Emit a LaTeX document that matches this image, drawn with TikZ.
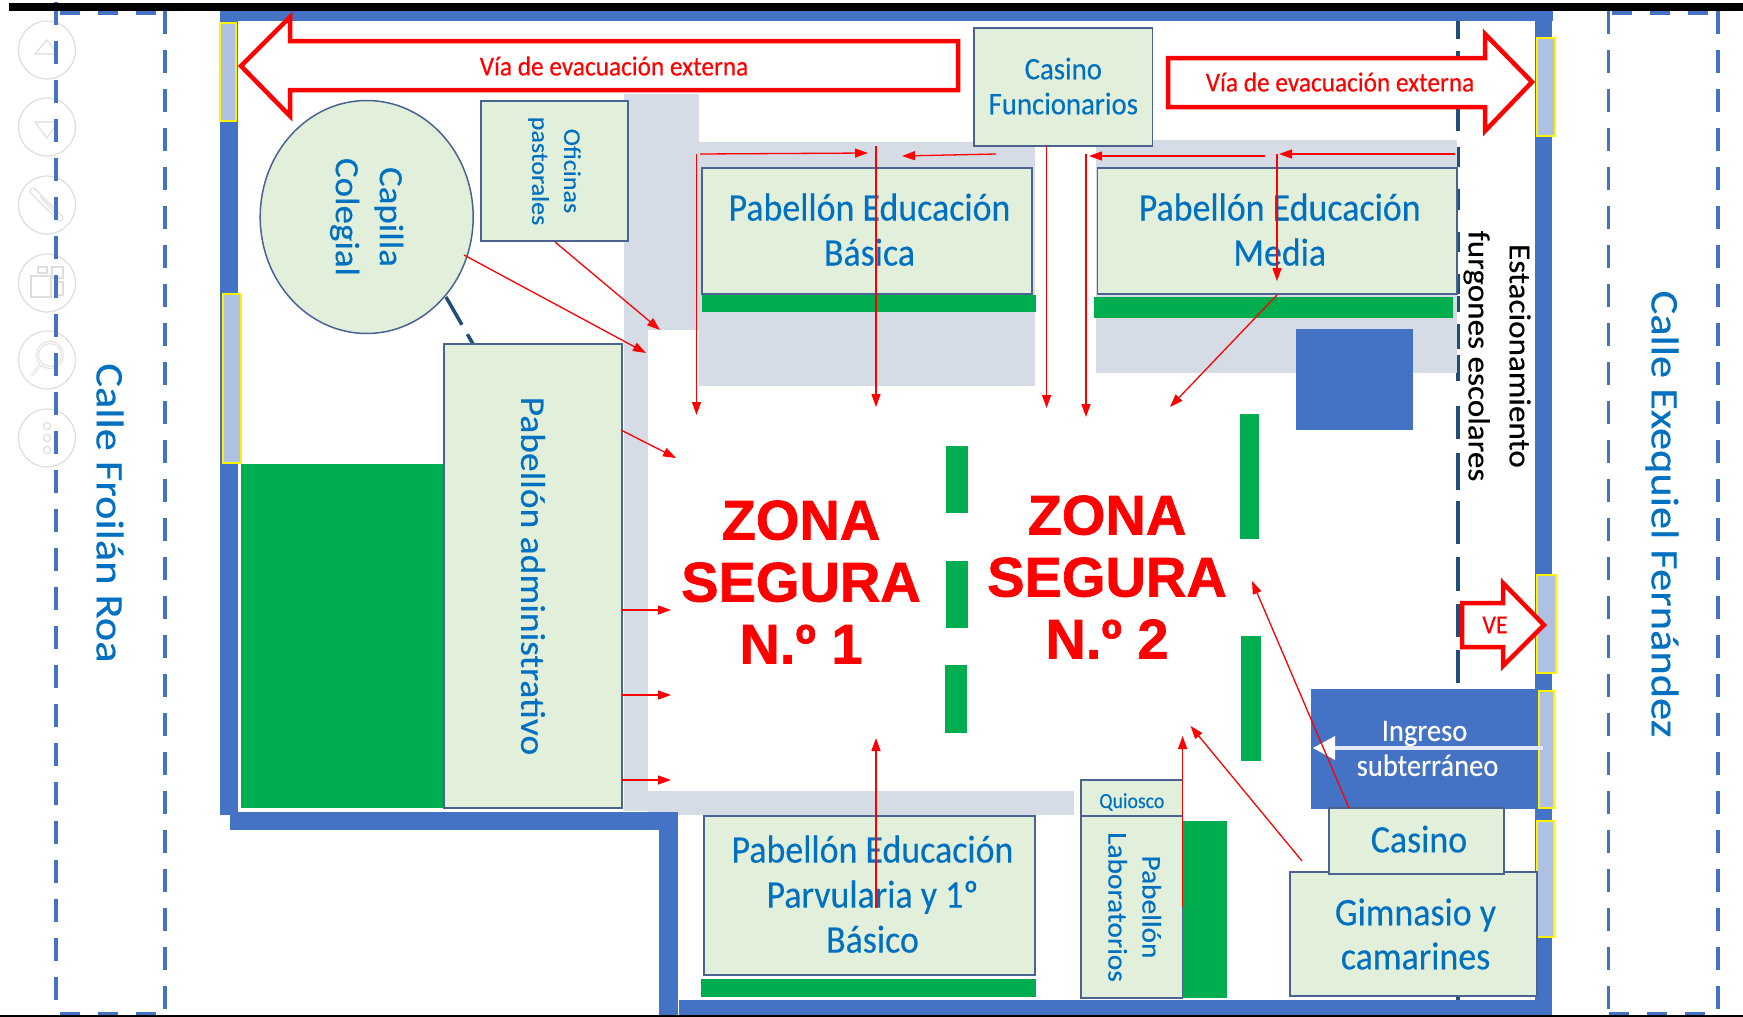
\documentclass[tikz,border=0pt]{standalone}
\usepackage{fontspec}
\usetikzlibrary{arrows.meta,shapes.geometric}
\setmainfont{Carlito}
\newfontfamily\hf[FakeStretch=0.92,FakeBold=0.25]{Carlito}
\newfontfamily\rf[FakeStretch=1.087,FakeBold=0.25]{Carlito}
\newfontfamily\cf[FakeStretch=1.14,FakeBold=0.25]{Carlito}
\newfontfamily\zf[UprightFont={* Bold},FakeBold=1.2]{Liberation Sans}
\definecolor{wallblue}{HTML}{4472C4}
\definecolor{winfill}{HTML}{AEC1E3}
\definecolor{boxfill}{HTML}{E2EFDA}
\definecolor{boxline}{HTML}{4A6391}
\definecolor{pathgray}{HTML}{D6DCE5}
\definecolor{grass}{HTML}{00AE4F}
\definecolor{txtblue}{HTML}{0070C0}
\definecolor{darkdash}{HTML}{1F4E79}
\definecolor{ghost}{HTML}{DEDEDE}
\tikzset{
  x=1pt,y=-1pt,
  roomnode/.style={draw=boxline,line width=1.5pt,fill=boxfill,inner sep=0pt,align=center,text=txtblue},
  hlab/.style 2 args={roomnode,font=\hf\fontsize{#1}{#2}\selectfont},
  wall/.style={fill=wallblue,draw=none},
  walk/.style={fill=pathgray,draw=none},
  lawn/.style={fill=grass,draw=none},
  window/.style={fill=winfill,draw=yellow,line width=1.2pt},
  road/.style={draw=wallblue,line width=3.5pt,dash pattern=on 23pt off 16pt},
  roadh/.style={draw=wallblue,line width=3.5pt,dash pattern=on 20pt off 18pt},
  evac/.style={draw=red,line width=4.5pt,fill=white,miter limit=6},
  exitarrow/.style={draw=red,line width=1.3pt,-{Triangle[length=13pt,width=9pt]}},
  ghosticon/.style={draw=ghost,line width=1.2pt},
  zone/.style={text=red,align=center,inner sep=0pt,font=\zf\fontsize{56}{62}\selectfont},
  evlabel/.style={text=red,inner sep=0pt,font=\hf\fontsize{27.5}{32}\selectfont},
  callelabel/.style={text=txtblue,inner sep=0pt,rotate=-90,font=\cf\fontsize{39}{44}\selectfont},
}
\begin{document}
\begin{tikzpicture}
\useasboundingbox (0,0) rectangle (1743,1017);
\fill[white] (0,0) rectangle (1743,1017);
% ghost toolbar
\foreach \cy in {50,127,205,283,360,438}{\draw[ghosticon,fill=white] (47,\cy) ellipse [x radius=28.5,y radius=29];}
\draw[ghosticon] (35,54)--(47,40)--(58,54)--cycle;
\draw[ghosticon] (35,122)--(58,122)--(47,138)--cycle;
\draw[ghosticon,line width=7pt,line cap=round] (33,191)--(60,218);
\draw[white,line width=4.4pt,line cap=round] (33,191)--(60,218);
\draw[ghosticon] (40,196)--(56,214);
\draw[ghosticon,line width=2.4pt] (31,276) rectangle (51,297);
\draw[ghosticon] (38,267) rectangle (47,273) (52,267) rectangle (63,278) (55,282) rectangle (63,295);
\draw[ghosticon,line width=3pt] (50,355) circle [radius=12.5] (41,364)--(32,375);
\draw[white,line width=1pt] (50,355) circle [radius=12.5] (41,364)--(32,375);
\foreach \dy in {426,438,450}{\draw[ghosticon] (47,\dy) circle [radius=3.6];}
% roads
\draw[road] (56,2)--(56,1012);
\draw[road] (165,11)--(165,1012);
\draw[road] (1608.5,11)--(1608.5,1012);
\draw[road] (1718,11)--(1718,1012);
\draw[roadh] (60,13)--(165,13);
\draw[roadh] (1612,13)--(1718,13);
\draw[roadh] (60,1014)--(165,1014);
\draw[roadh] (1609,1014)--(1718,1014);
% parking dashed line
\foreach \ya/\yb in {21/39,51/70,108/131,147/167,189/210,232/252,274/294,296/312,324/349,355/381,406/439,453/490,501/544,557/591,604/637,650/683,996/1000}{
  \draw[darkdash,line width=3.5pt] (1458,\ya)--(1458,\yb);}
% walkways
\fill[walk] (624,94) rectangle (699,330);
\fill[walk] (624,330) rectangle (648,811);
\fill[walk] (648,791) rectangle (1074,815);
\fill[walk] (699,142) rectangle (1035,386);
\fill[walk] (1096,140) rectangle (1457,373);
% walls
\fill[wall] (220,11) rectangle (1553,21);
\fill[wall] (220,11) rectangle (238,815);
\fill[wall] (230,812) rectangle (678,830);
\fill[wall] (659,812) rectangle (678,1015);
\fill[wall] (679,1000) rectangle (1552,1015);
\fill[wall] (1535,11) rectangle (1552,1015);
% windows
\draw[window] (220,23) rectangle (236,121);
\draw[window] (223,294) rectangle (241,463);
\draw[window] (1537,38) rectangle (1555,136);
\draw[window] (1537,575) rectangle (1556,673);
\draw[window] (1537,821) rectangle (1554,937);
% frame lines
\fill[black] (9,3) rectangle (1743,11);
\fill[black] (0,1015) rectangle (1743,1017);
% lawns
\fill[lawn] (241,464) rectangle (446,808);
\fill[lawn] (702,295) rectangle (1036,312);
\fill[lawn] (1094,297) rectangle (1453,318);
\fill[lawn] (946,446) rectangle (968,513);
\fill[lawn] (946,561) rectangle (968,628);
\fill[lawn] (945,665) rectangle (967,733);
\fill[lawn] (1240,414) rectangle (1259,539);
\fill[lawn] (1241,636) rectangle (1261,761);
\fill[lawn] (701,979) rectangle (1036,997);
\fill[lawn] (1183,821) rectangle (1227,998);
\fill[wallblue] (1296,329) rectangle (1412.6,430);
% dashed link
\draw[darkdash,line width=3.5pt,dash pattern=on 32pt off 11pt] (446,297)--(473,344);
% rooms
\node[roomnode,ellipse,rotate=-90,minimum width=233pt,minimum height=213pt,font=\rf\fontsize{34}{44}\selectfont] (capilla) at (366.7,217) {Capilla\\Colegial};
\node[roomnode,rotate=-90,minimum width=140pt,minimum height=147pt,font=\rf\fontsize{24}{32}\selectfont] (oficinas) at (554.5,171) {Oficinas\\pastorales};
\node[roomnode,rotate=-90,minimum width=464pt,minimum height=178pt,font=\rf\fontsize{34.5}{40}\selectfont] (admin) at (533,576) {Pabellón administrativo};
\node[hlab={31.3}{35},minimum width=178.6pt,minimum height=118pt,text depth=2pt] (casinof) at (1063.3,87) {Casino\\Funcionarios};
\node[hlab={39}{45},minimum width=330pt,minimum height=126pt,text depth=3pt] (basica) at (867,231) {\hspace*{5pt}Pabellón Educación\\\hspace*{5pt}Básica};
\node[hlab={39}{45},minimum width=359.5pt,minimum height=126pt,text depth=3pt] (media) at (1277.2,231) {\hspace*{5pt}Pabellón Educación\\\hspace*{5pt}Media};
\node[hlab={39}{45},minimum width=331pt,minimum height=159pt,text depth=3pt] (parv) at (869.5,895.5) {\hspace*{6pt}Pabellón Educación\\\hspace*{6pt}Parvularia y 1º\\\hspace*{6pt}Básico};
\node[hlab={21.5}{25},minimum width=101.6pt,minimum height=36pt] (quiosco) at (1131.8,798) {\raisebox{-10pt}[0pt][0pt]{Quiosco}};
\node[roomnode,rotate=-90,minimum width=182pt,minimum height=101.6pt,text depth=6pt,font=\rf\fontsize{27}{34}\selectfont] (lab) at (1131.8,907) {Pabellón\\Laboratorios};
\node[fill=wallblue,draw=wallblue,line width=1pt,inner sep=0pt,minimum width=233pt,minimum height=119pt,align=center,text=white,font=\hf\fontsize{31}{35}\selectfont] (ingreso) at (1427.5,748.5) {Ingreso\hspace*{6pt}\\subterráneo};
\draw[window] (1539,691) rectangle (1554,808);
\node[hlab={39}{44},minimum width=247pt,minimum height=124pt] (gym) at (1413.5,934) {\hspace*{4pt}Gimnasio y\\\hspace*{4pt}camarines};
\node[hlab={39}{44},minimum width=175pt,minimum height=66pt,text depth=4pt] (casino) at (1416.5,841) {\hspace*{5pt}Casino};
% ingress arrow
\draw[draw=white!85!wallblue,line width=3.5pt] (1543,748)--(1330,748);
\fill[white] (1313,748)--(1335,736)--(1335,760)--cycle;
% big evacuation arrows
\draw[evac] (241,66)--(290,17)--(290,41)--(958,41)--(958,90)--(290,90)--(290,116)--cycle;
\draw[evac] (1168,58)--(1485,58)--(1485,34)--(1532,82)--(1485,131)--(1485,107)--(1168,107)--cycle;
\draw[evac] (1462,603)--(1503,603)--(1503,583)--(1544,625)--(1503,666)--(1503,647)--(1462,647)--cycle;
\node[evlabel] (via1) at (614,66) {Vía de evacuación externa};
\node[evlabel] (via2) at (1340,82) {Vía de evacuación externa};
\node[evlabel,font=\hf\fontsize{26}{30}\selectfont] (ve) at (1495,625) {VE};
% street and parking labels
\node[callelabel] (froilan) at (110,513) {Calle Froilán Roa};
\node[callelabel] (exequiel) at (1662,514) {Calle Exequiel Fernández};
\node[text=black,inner sep=0pt,rotate=-90,align=center,font=\rf\fontsize{30.5}{41}\selectfont] (parking) at (1497,356) {Estacionamiento\\furgones escolares};
% safe zones
\node[zone] (z1) at (801,582) {ZONA\\SEGURA\\N.º 1};
\node[zone] (z2) at (1107,577) {ZONA\\SEGURA\\N.º 2};
% exit arrows
\coordinate (a1) at (464,255); \coordinate (a2) at (646,353);
\coordinate (b1) at (555,242); \coordinate (b2) at (660,330);
\coordinate (c1) at (621,430); \coordinate (c2) at (676,458);
\coordinate (d1) at (696.5,154); \coordinate (d2) at (696.5,415);
\coordinate (e1) at (700,154); \coordinate (e2) at (868,153);
\coordinate (f1) at (876,146); \coordinate (f2) at (876,407);
\coordinate (g1) at (996,154); \coordinate (g2) at (902,156);
\coordinate (h1) at (1046.6,146); \coordinate (h2) at (1046.6,408);
\coordinate (i1) at (1086,154); \coordinate (i2) at (1086,417);
\coordinate (j1) at (1265,156); \coordinate (j2) at (1089,156);
\coordinate (k1) at (1455,154); \coordinate (k2) at (1279,154);
\coordinate (l1) at (1277,154); \coordinate (l2) at (1277,281);
\coordinate (m1) at (1277,295); \coordinate (m2) at (1170,407);
\coordinate (n1) at (1349,808); \coordinate (n2) at (1252,581);
\coordinate (o1) at (1302,861); \coordinate (o2) at (1190.5,726);
\coordinate (p1) at (1182.6,907); \coordinate (p2) at (1182.6,736);
\coordinate (q1) at (876,908); \coordinate (q2) at (876,738);
\coordinate (r1) at (622,610); \coordinate (r2) at (671,610);
\coordinate (s1) at (622,695); \coordinate (s2) at (671,695);
\coordinate (t1) at (622,780); \coordinate (t2) at (671,780);
\foreach \p in {a,b,c,d,e,f,g,h,i,j,k,l,m,n,o,p,q,r,s,t}{\draw[exitarrow] (\p1)--(\p2);}
\end{tikzpicture}
\end{document}
